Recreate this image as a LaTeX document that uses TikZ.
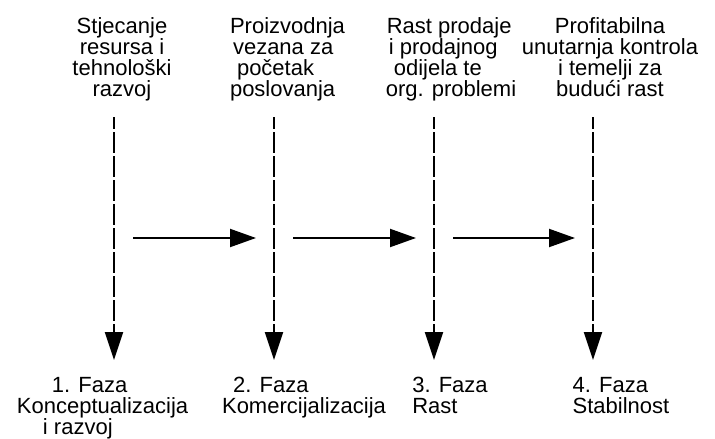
\documentclass[tikz,border=0pt]{standalone}
\usepackage{fontspec}
\setmainfont{Liberation Sans}
\usepackage{tikz}
\usetikzlibrary{arrows.meta, positioning}
\tikzset{phaseText/.style={font=\fontsize{22}{21}\selectfont, inner sep=0pt}}
\tikzset{phaseLine/.style={-{Triangle[length=28pt, width=18pt]}, dash pattern=on 20.5pt off 3.5pt, dash phase=8.9pt}}
\tikzset{flowArrow/.style={->, shorten <=19pt, shorten >=18pt}}

\begin{document}
\begin{tikzpicture}[>={Triangle[length=26pt, width=18pt]}, x=1pt, y=-1pt, line width=2pt, node distance=160pt, every node/.style={phaseText}]
\useasboundingbox (0,0) rectangle (715,439);
\coordinate (s1) at (114,117);
\coordinate[right=of s1] (s2);
\coordinate[right=of s2] (s3);
\coordinate[right=159pt of s3] (s4);
\coordinate[below=243pt of s1] (e1);
\coordinate[below=243pt of s2] (e2);
\coordinate[below=243pt of s3] (e3);
\coordinate[below=243pt of s4] (e4);
\coordinate[below=121pt of s1] (m1);
\coordinate[below=121pt of s2] (m2);
\coordinate[below=121pt of s3] (m3);
\coordinate[below=121pt of s4] (m4);
\node[above=13.7pt of s1, xshift=8pt, align=center, execute at end node=\strut] (t1) {Stjecanje\\resursa i\\tehnološki\\razvoj};
\node[above=13.7pt of s2, xshift=13.5pt, align=left, execute at end node=\strut] (t2) {Proizvodnja\\\hspace*{3pt}vezana za\\\hspace*{7pt}početak\\poslovanja};
\node[above=13.7pt of s3, xshift=17pt, align=left, execute at end node=\strut] (t3) {\hspace*{1pt}Rast prodaje\\\hspace*{3pt}i prodajnog\\\hspace*{8pt}odijela te\\org. problemi};
\node[above=13.7pt of s4, xshift=17pt, align=center, execute at end node=\strut] (t4) {Profitabilna\\unutarnja kontrola\\i temelji za\\budući rast};
\node[below=16.6pt of e1, xshift=-11.4pt, align=left, execute at begin node=\strut] (f1) {\hspace*{35pt}1. Faza\\Konceptualizacija\\\hspace*{26pt}i razvoj};
\node[below=16.6pt of e2, xshift=30pt, align=left, execute at begin node=\strut] (f2) {\hspace*{11pt}2. Faza\\Komercijalizacija};
\node[below=16.6pt of e3, xshift=16pt, align=left, execute at begin node=\strut] (f3) {3. Faza\\Rast};
\node[below=16.6pt of e4, xshift=28pt, align=left, execute at begin node=\strut] (f4) {4. Faza\\Stabilnost};
\draw [phaseLine] (s1) -- (e1);
\draw [phaseLine] (s2) -- (e2);
\draw [phaseLine] (s3) -- (e3);
\draw [phaseLine] (s4) -- (e4);
\draw [flowArrow] (m1) -- (m2);
\draw [flowArrow] (m2) -- (m3);
\draw [flowArrow] (m3) -- (m4);
\end{tikzpicture}
\end{document}
